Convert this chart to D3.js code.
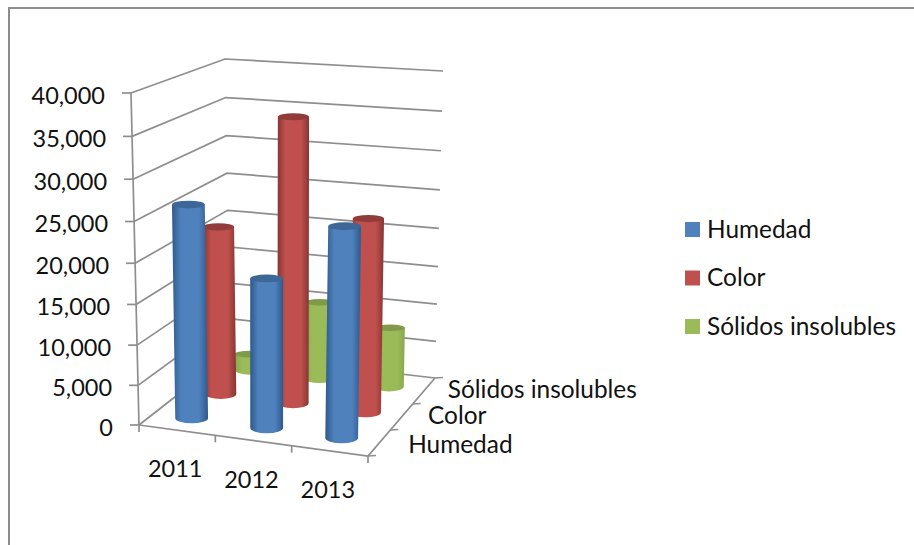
<!DOCTYPE html>
<html lang="es">
<head>
<meta charset="utf-8">
<script src="https://cdn.jsdelivr.net/npm/d3@7/dist/d3.min.js"></script>
<style>
  html, body { margin: 0; padding: 0; background: #fff; }
  svg { display: block; }
  text { font-family: Lato, "Open Sans", sans-serif; fill: #111; }
</style>
</head>
<body>
<svg id="chart" width="914" height="545"></svg>
<script>
// Chart data
const years = ["2011", "2012", "2013"];
const seriesNames = ["Humedad", "Color", "Sólidos insolubles"];
const humedad = [26500, 18500, 25600];
const color = [21700, 36000, 24400];
const solidos = [2200, 10300, 7900];
const valueTicks = [0, 5000, 10000, 15000, 20000, 25000, 30000, 35000, 40000];
const seriesValues = [humedad, color, solidos];
const seriesColors = [
  { main: "#4f81bd", edge: "#2e5a8c", cap: "#3c6797" },
  { main: "#c0504d", edge: "#853533", cap: "#8f3c3a" },
  { main: "#9bbb59", edge: "#8aa84e", cap: "#7f9a48" }
];

const svg = d3.select("#chart");

// Corners of the 3D box as seen by the camera
const floor = { fl: [139, 425], fr: [368, 456], bl: [230, 354], br: [435, 378] };
const ceiling = { fl: [131, 93], fr: [375, 110], bl: [225, 59], br: [443, 71] };

const lerp = (p, q, t) => [p[0] + (q[0] - p[0]) * t, p[1] + (q[1] - p[1]) * t];
const planePoint = (c, a, d) => lerp(lerp(c.fl, c.fr, a), lerp(c.bl, c.br, a), d);

const valueScale = d3.scaleLinear().domain([0, 40000]).range([0, 1]);
const foreshorten = 0.95;
// Maps a value to its height fraction; gridlines crowd slightly towards the floor
const heightAt = v => {
  const u = valueScale(v);
  return u * foreshorten / (1 + (foreshorten - 1) * u);
};
// a: along the years, d: front to back, v: value
const project = (a, d, v) => lerp(planePoint(floor, a, d), planePoint(ceiling, a, d), heightAt(v));

const yearBand = d3.scaleBand().domain(d3.range(years.length)).range([0, 1]);
const depthBand = d3.scaleBand().domain(d3.range(seriesNames.length)).range([0, 1]);
const yearCentre = i => yearBand(i) + yearBand.bandwidth() / 2;
const depthCentre = i => depthBand(i) + depthBand.bandwidth() / 2;

// Cylinder size shrinks with distance
const radiusX = d3.scaleLinear().domain([1 / 6, 5 / 6]).range([16.4, 14.8]);
const radiusTop = d3.scaleLinear().domain([1 / 6, 5 / 6]).range([3.9, 3.3]);
const radiusBase = d3.scaleLinear().domain([1 / 6, 5 / 6]).range([5.2, 4.6]);

// Gradients shading the cylinder walls
const defs = svg.append("defs");
seriesColors.forEach((c, i) => {
  const g = defs.append("linearGradient").attr("id", "wall" + i)
    .attr("x1", 0).attr("x2", 1).attr("y1", 0).attr("y2", 0);
  [[0, c.edge], [0.25, c.main], [0.5, c.main], [0.75, c.main], [1, c.edge]].forEach(s =>
    g.append("stop").attr("offset", s[0]).attr("stop-color", s[1]));
});

// Chart frame
const line = d3.line();
svg.append("path")
  .attr("d", line([[9, 545], [9, 8], [914, 8]]))
  .attr("fill", "none").attr("stroke", "#8c8c8c").attr("stroke-width", 2);

const axisStroke = "#8e8e8e";
const axes = svg.append("g").attr("fill", "none").attr("stroke", axisStroke).attr("stroke-width", 1.7);

// Gridlines across the side and back walls
axes.selectAll("path.grid").data(valueTicks).join("path")
  .attr("class", "grid")
  .attr("d", v => line([project(0, 0, v), project(0, 1, v), project(1, 1, v)]));

// Value axis with its ticks
axes.append("path").attr("d", line([project(0, 0, 0), project(0, 0, 40000)]));
axes.selectAll("path.ytick").data(valueTicks).join("path")
  .attr("class", "ytick")
  .attr("d", v => {
    const p = project(0, 0, v);
    return line([[p[0] - 9, p[1]], p]);
  });

// Floor edges and their ticks
axes.append("path").attr("d", line([floor.fl, floor.fr, floor.br]));
axes.selectAll("path.xtick").data(d3.range(years.length + 1)).join("path")
  .attr("class", "xtick")
  .attr("d", i => {
    const p = project(i / years.length, 0, 0);
    return line([p, [p[0], p[1] + 7]]);
  });
axes.selectAll("path.ztick").data(d3.range(seriesNames.length + 1)).join("path")
  .attr("class", "ztick")
  .attr("d", i => {
    const p = project(1, i / seriesNames.length, 0);
    return line([p, [p[0] + 8, p[1] - 0.5]]);
  });

// Cylinders, painted from the back row to the front row
const bars = [];
d3.range(seriesNames.length).reverse().forEach(s => {
  years.forEach((_, i) => bars.push({ s, i, v: seriesValues[s][i] }));
});

const barGroups = svg.append("g").selectAll("g").data(bars).join("g");
barGroups.append("path")
  .attr("fill", d => `url(#wall${d.s})`)
  .attr("d", d => {
    const dc = depthCentre(d.s), ac = yearCentre(d.i);
    const b = project(ac, dc, 0), t = project(ac, dc, d.v);
    const rx = radiusX(dc), ry = radiusBase(dc);
    return `M${t[0] - rx},${t[1]}L${b[0] - rx},${b[1]}` +
      `A${rx},${ry} 0 0 0 ${b[0] + rx},${b[1]}L${t[0] + rx},${t[1]}Z`;
  });
barGroups.append("ellipse")
  .attr("fill", d => seriesColors[d.s].cap)
  .attr("cx", d => project(yearCentre(d.i), depthCentre(d.s), d.v)[0])
  .attr("cy", d => project(yearCentre(d.i), depthCentre(d.s), d.v)[1])
  .attr("rx", d => radiusX(depthCentre(d.s)))
  .attr("ry", d => radiusTop(depthCentre(d.s)));

// Value labels
const numberSize = 23.5;
const nameSize = 24.4;
svg.append("g").selectAll("text").data(valueTicks).join("text")
  .attr("text-anchor", "end")
  .attr("dominant-baseline", "central")
  .attr("font-size", numberSize)
  .attr("x", v => project(0, 0, v)[0] - 26)
  .attr("y", v => project(0, 0, v)[1] + 1.5)
  .text(d3.format(",d"));

// Year labels under the front edge
svg.append("g").selectAll("text").data(years).join("text")
  .attr("text-anchor", "middle")
  .attr("dominant-baseline", "central")
  .attr("font-size", numberSize)
  .attr("x", (_, i) => project(yearCentre(i), 0, 0)[0] - 2)
  .attr("y", (_, i) => project(yearCentre(i), 0, 0)[1] + 38)
  .text(d => d);

// Series labels along the right floor edge
const depthLabelOffset = d3.scaleLinear().domain([1 / 6, 5 / 6]).range([29, 24]);
const depthLabelRaise = [0, 3, 3];
svg.append("g").selectAll("text").data(seriesNames).join("text")
  .attr("dominant-baseline", "central")
  .attr("font-size", nameSize)
  .attr("x", (_, i) => project(1, depthCentre(i), 0)[0] + depthLabelOffset(depthCentre(i)))
  .attr("y", (_, i) => project(1, depthCentre(i), 0)[1] - depthLabelRaise[i])
  .text(d => d);

// Legend
const legendY = d3.scalePoint().domain(seriesNames).range([229.5, 326.5]);
const legend = svg.append("g").selectAll("g").data(seriesNames).join("g")
  .attr("transform", d => `translate(685,${legendY(d)})`);
legend.append("rect")
  .attr("x", 0).attr("y", -7.5).attr("width", 15).attr("height", 15)
  .attr("fill", (_, i) => seriesColors[i].main);
legend.append("text")
  .attr("x", 22)
  .attr("y", -1.5)
  .attr("dominant-baseline", "central")
  .attr("font-size", nameSize)
  .text(d => d);
</script>
</body>
</html>
